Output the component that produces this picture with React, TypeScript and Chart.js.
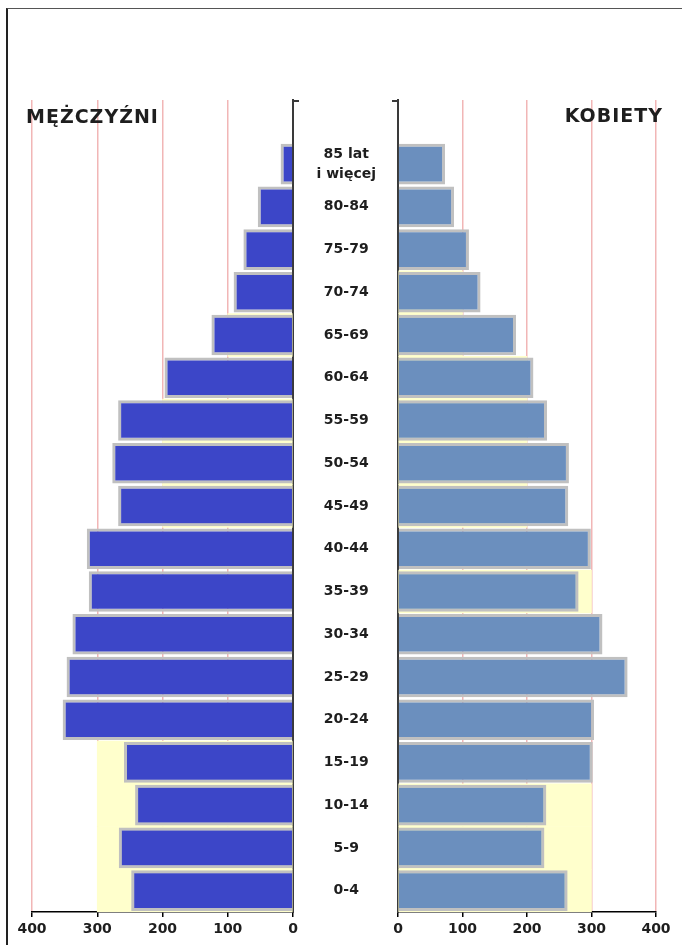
import React, { useEffect, useRef } from 'react';
import { Chart, registerables } from 'chart.js';

Chart.register(...registerables);

// ---- data ----
const ageGroups: (string | string[])[] = [
  '',
  ['85 lat', 'i więcej'],
  '80-84', '75-79', '70-74', '65-69', '60-64', '55-59', '50-54', '45-49',
  '40-44', '35-39', '30-34', '25-29', '20-24', '15-19', '10-14', '5-9', '0-4',
];

const menValues = [null, 19, 54, 76, 91, 125, 197, 268, 277, 268, 316, 313, 338, 347, 353, 259, 242, 267, 248];
const womenValues = [null, 73, 87, 110, 128, 183, 210, 231, 265, 264, 299, 280, 317, 356, 304, 302, 230, 227, 263];

const menShade = [null, null, null, null, null, 100, null, 200, 200, 200, null, null, null, null, null, 300, 300, 300, 300];
const womenShade = [null, null, null, null, 100, 100, 200, 200, 200, 200, null, 300, null, null, null, null, 300, 300, 300];

const axisTicks = [0, 100, 200, 300, 400];

const menTitle = 'MĘŻCZYŹNI';
const womenTitle = 'KOBIETY';

// ---- styles ----
const FONT = "'DejaVu Sans', Verdana, sans-serif";
const TEXT = '#1e1e1e';
const GRID = '#f1b6b6';
const MEN = '#3c46c8';
const WOMEN = '#6b8fbe';
const SHADE = '#ffffcc';
const BAR_EDGE = '#c0c0c0';
const AXIS = '#3a3a3a';

const CANVAS_TOP = 88;
const CANVAS_H = 857;

function xScale(reverse: boolean) {
  return {
    type: 'linear' as const,
    reverse,
    min: 0,
    max: 400,
    afterBuildTicks: (s: any) => {
      s.ticks = axisTicks.map((v) => ({ value: v }));
    },
    afterFit: (s: any) => {
      s.height = 29;
    },
    grid: {
      color: GRID,
      lineWidth: 1.5,
      tickLength: 5,
      tickColor: '#000',
      tickWidth: 1.5,
    },
    border: { color: '#000', width: 1.5 },
    ticks: {
      font: { family: FONT, size: 14, weight: 'bold' as const },
      color: TEXT,
      padding: 4,
      maxRotation: 0,
      autoSkip: false,
    },
  };
}

function datasets(values: (number | null)[], shade: (number | null)[], color: string, name: string) {
  return [
    {
      label: name,
      data: values,
      backgroundColor: color,
      borderColor: BAR_EDGE,
      borderWidth: 3,
      barPercentage: 0.95,
      categoryPercentage: 1,
      grouped: false,
      order: 1,
    },
    {
      label: name + ' (tło)',
      data: shade,
      backgroundColor: SHADE,
      borderWidth: 0,
      barPercentage: 1,
      categoryPercentage: 1,
      grouped: false,
      order: 2,
    },
  ];
}

export default function App() {
  const leftRef = useRef<HTMLCanvasElement | null>(null);
  const rightRef = useRef<HTMLCanvasElement | null>(null);

  useEffect(() => {
    if (!leftRef.current || !rightRef.current) return;

    const leftDecor = {
      id: 'leftDecor',
      afterDraw(chart: any) {
        const { ctx, chartArea } = chart;
        ctx.save();
        ctx.strokeStyle = AXIS;
        ctx.lineWidth = 2;
        ctx.beginPath();
        ctx.moveTo(chartArea.right, chartArea.top + 1);
        ctx.lineTo(chartArea.right + 6, chartArea.top + 1);
        ctx.stroke();
        ctx.font = `bold 19px ${FONT}`;
        ctx.fillStyle = TEXT;
        ctx.textBaseline = 'middle';
        ctx.textAlign = 'left';
        (ctx as any).letterSpacing = '1px';
        ctx.fillText(menTitle, chartArea.left - 6, chartArea.top + 18);
        ctx.restore();
      },
    };

    const rightDecor = {
      id: 'rightDecor',
      afterDraw(chart: any) {
        const { ctx, chartArea } = chart;
        ctx.save();
        ctx.strokeStyle = AXIS;
        ctx.lineWidth = 2;
        ctx.beginPath();
        ctx.moveTo(chartArea.left - 6, chartArea.top + 1);
        ctx.lineTo(chartArea.left, chartArea.top + 1);
        ctx.stroke();
        ctx.font = `bold 19px ${FONT}`;
        ctx.fillStyle = TEXT;
        ctx.textBaseline = 'middle';
        ctx.textAlign = 'right';
        (ctx as any).letterSpacing = '1px';
        ctx.fillText(womenTitle, chartArea.right + 7, chartArea.top + 17);
        ctx.restore();
      },
    };

    const left = new Chart(leftRef.current, {
      type: 'bar',
      data: { labels: ageGroups as any, datasets: datasets(menValues, menShade, MEN, menTitle) as any },
      options: {
        indexAxis: 'y',
        responsive: false,
        animation: false,
        devicePixelRatio: 1,
        layout: { padding: { left: 32, right: 7, top: 12, bottom: 4 } },
        plugins: { legend: { display: false }, tooltip: { enabled: false }, title: { display: false } },
        scales: {
          x: xScale(true) as any,
          y: {
            position: 'right',
            grid: { display: false, drawTicks: false },
            border: { color: AXIS, width: 2 },
            ticks: { display: false },
            afterFit: (s: any) => {
              s.width = 0;
              s.paddingTop = 0;
              s.paddingBottom = 0;
            },
          },
        },
      },
      plugins: [leftDecor],
    });

    const right = new Chart(rightRef.current, {
      type: 'bar',
      data: { labels: ageGroups as any, datasets: datasets(womenValues, womenShade, WOMEN, womenTitle) as any },
      options: {
        indexAxis: 'y',
        responsive: false,
        animation: false,
        devicePixelRatio: 1,
        layout: { padding: { left: 0, right: 26, top: 12, bottom: 4 } },
        plugins: { legend: { display: false }, tooltip: { enabled: false }, title: { display: false } },
        scales: {
          x: xScale(false) as any,
          y: {
            position: 'left',
            grid: { display: false, drawTicks: false },
            border: { color: AXIS, width: 2 },
            ticks: {
              font: { family: FONT, size: 14, weight: 'bold', lineHeight: 1.4 },
              color: TEXT,
              crossAlign: 'center',
              padding: 22,
              autoSkip: false,
            },
            afterFit: (s: any) => {
              s.width = 98;
              s.paddingTop = 0;
              s.paddingBottom = 0;
            },
          },
        },
      },
      plugins: [rightDecor],
    });

    return () => {
      left.destroy();
      right.destroy();
    };
  }, []);

  return (
    <div style={{ position: 'fixed', left: 0, top: 0, width: 682, height: 945, overflow: 'hidden', background: '#fff' }}>
      <div
        style={{
          position: 'absolute',
          left: 6,
          top: 8,
          width: 720,
          height: 980,
          borderTop: '1px solid #555',
          borderLeft: '2px solid #222',
          boxSizing: 'border-box',
        }}
      />
      <canvas
        ref={leftRef}
        width={300}
        height={CANVAS_H}
        style={{ position: 'absolute', left: 0, top: CANVAS_TOP, width: 300, height: CANVAS_H, display: 'block' }}
      />
      <canvas
        ref={rightRef}
        width={382}
        height={CANVAS_H}
        style={{ position: 'absolute', left: 300, top: CANVAS_TOP, width: 382, height: CANVAS_H, display: 'block' }}
      />
    </div>
  );
}
